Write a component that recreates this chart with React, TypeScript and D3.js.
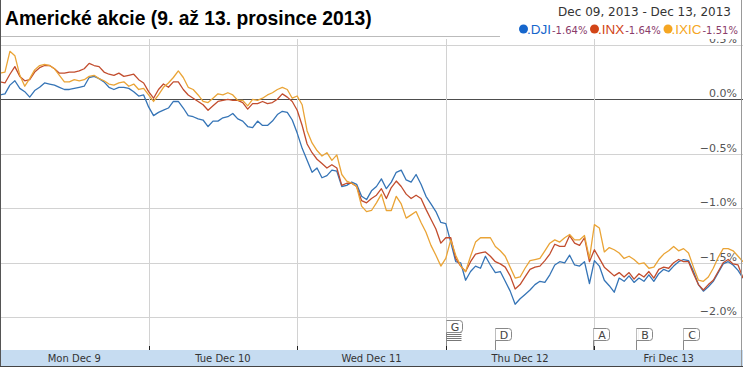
import React from "react";
import * as d3 from "d3";

const width = 743;
const height = 367;

const days = ["Mon Dec 9", "Tue Dec 10", "Wed Dec 11", "Thu Dec 12", "Fri Dec 13"];
const slotsPerDay = 30;
const yTicks = [0.5, 0, -0.5, -1.0, -1.5, -2.0];

// % change from the Friday Dec 6 close, one value per ~13 minutes of trading
const djiValues = [
  0.04, 0.05, 0.13, 0.17, 0.10, 0.07, 0.02, 0.08, 0.11, 0.15, 0.14, 0.13, 0.11, 0.09, 0.09, 0.10, 0.11, 0.12, 0.20, 0.21, 0.19, 0.16, 0.11, 0.09, 0.11, 0.11, 0.10, 0.07, 0.03, 0.04,
  -0.07, -0.15, -0.12, -0.10, -0.08, -0.02, -0.02, -0.08, -0.15, -0.16, -0.18, -0.19, -0.25, -0.20, -0.20, -0.17, -0.16, -0.13, -0.18, -0.20, -0.25, -0.26, -0.20, -0.24, -0.24, -0.20, -0.14, -0.11, -0.12, -0.19,
  -0.31, -0.45, -0.56, -0.67, -0.63, -0.72, -0.70, -0.65, -0.66, -0.80, -0.79, -0.76, -0.78, -0.89, -0.92, -0.84, -0.80, -0.73, -0.82, -0.76, -0.67, -0.65, -0.74, -0.76, -0.69, -0.78, -0.89, -0.96, -1.03, -1.13,
  -1.14, -1.31, -1.49, -1.50, -1.66, -1.58, -1.53, -1.55, -1.44, -1.52, -1.59, -1.58, -1.67, -1.76, -1.88, -1.83, -1.79, -1.75, -1.70, -1.67, -1.68, -1.61, -1.52, -1.49, -1.50, -1.43, -1.52, -1.53, -1.49, -1.69,
  -1.48, -1.53, -1.66, -1.71, -1.77, -1.64, -1.67, -1.62, -1.68, -1.64, -1.67, -1.61, -1.67, -1.60, -1.56, -1.58, -1.53, -1.49, -1.47, -1.48, -1.58, -1.70, -1.76, -1.72, -1.67, -1.59, -1.51, -1.49, -1.52, -1.57, -1.64,
];

const inxValues = [
  0.16, 0.15, 0.23, 0.30, 0.21, 0.17, 0.18, 0.25, 0.29, 0.31, 0.31, 0.28, 0.24, 0.24, 0.25, 0.25, 0.26, 0.28, 0.33, 0.31, 0.30, 0.25, 0.23, 0.22, 0.24, 0.21, 0.22, 0.23, 0.18, 0.15,
  0.07, 0.01, 0.09, 0.14, 0.11, 0.16, 0.16, 0.09, 0.04, 0.01, -0.02, -0.05, -0.10, -0.06, -0.02, -0.01, 0.00, -0.01, -0.01, -0.03, -0.09, -0.04, -0.04, -0.02, -0.04, -0.03, 0.00, 0.05, 0.02, -0.02,
  -0.10, -0.24, -0.41, -0.49, -0.55, -0.59, -0.63, -0.60, -0.63, -0.79, -0.77, -0.77, -0.80, -0.93, -0.95, -0.91, -0.88, -0.82, -0.91, -0.81, -0.75, -0.80, -0.87, -0.91, -0.88, -0.91, -1.01, -1.10, -1.19, -1.32,
  -1.27, -1.27, -1.46, -1.53, -1.58, -1.49, -1.42, -1.41, -1.40, -1.44, -1.49, -1.51, -1.54, -1.62, -1.74, -1.70, -1.63, -1.56, -1.54, -1.53, -1.48, -1.42, -1.33, -1.35, -1.35, -1.25, -1.32, -1.34, -1.27, -1.49,
  -1.38, -1.46, -1.54, -1.58, -1.62, -1.59, -1.63, -1.59, -1.65, -1.60, -1.63, -1.58, -1.64, -1.56, -1.54, -1.55, -1.50, -1.47, -1.49, -1.49, -1.60, -1.70, -1.75, -1.70, -1.66, -1.58, -1.50, -1.47, -1.51, -1.52, -1.64,
];

const ixicValues = [
  0.24, 0.25, 0.44, 0.40, 0.22, 0.12, 0.19, 0.27, 0.31, 0.32, 0.31, 0.28, 0.22, 0.16, 0.16, 0.18, 0.17, 0.18, 0.21, 0.22, 0.19, 0.17, 0.14, 0.13, 0.15, 0.16, 0.12, 0.14, 0.09, 0.10,
  0.04, -0.02, 0.04, 0.11, 0.15, 0.20, 0.26, 0.20, 0.11, 0.09, 0.04, -0.02, -0.03, 0.01, 0.05, 0.04, 0.06, 0.04, -0.01, -0.01, -0.06, 0.00, -0.01, 0.01, 0.04, 0.06, 0.09, 0.11, 0.09, 0.01,
  0.03, -0.05, -0.29, -0.40, -0.47, -0.52, -0.49, -0.56, -0.51, -0.69, -0.75, -0.77, -0.80, -0.98, -1.03, -1.02, -0.95, -0.87, -1.02, -1.02, -0.89, -0.96, -1.09, -1.06, -1.03, -1.13, -1.22, -1.34, -1.43, -1.53,
  -1.46, -1.29, -1.43, -1.53, -1.58, -1.44, -1.31, -1.27, -1.27, -1.27, -1.35, -1.39, -1.44, -1.54, -1.64, -1.63, -1.55, -1.48, -1.47, -1.46, -1.39, -1.32, -1.29, -1.31, -1.27, -1.24, -1.29, -1.29, -1.25, -1.46,
  -1.15, -1.18, -1.40, -1.36, -1.38, -1.41, -1.46, -1.44, -1.47, -1.51, -1.50, -1.55, -1.54, -1.47, -1.42, -1.39, -1.35, -1.39, -1.37, -1.41, -1.54, -1.66, -1.67, -1.63, -1.55, -1.45, -1.37, -1.37, -1.39, -1.44, -1.49,
];

const seriesNames = [".DJI", ".INX", ".IXIC"];
const seriesChanges = ["-1.64%", "-1.64%", "-1.51%"];
const seriesColors = ["#3574b6", "#c24d2e", "#eaa436"];
const legendColors = ["#1666cc", "#d24517", "#f5a623"];
const seriesValues = [djiValues, inxValues, ixicValues];

// news flags: label, slot on the time axis, how many flags are stacked
const flagLabels = ["G", "D", "A", "B", "C"];
const flagSlots = [90, 100, 119.8, 128.3, 137.8];
const flagStacks = [6, 1, 1, 2, 1];

const fmtTick = (v: number) => d3.format(".1f")(v) + "%";

export default function App() {
  const x = d3.scaleLinear().domain([0, days.length * slotsPerDay]).range([0, width]);
  const y = d3.scaleLinear().domain([0.5, -2]).range([44.8, 317.3]);
  const line = d3
    .line<number>()
    .x((_, i) => x(i))
    .y((d) => y(d));

  const px = (v: number) => Math.round(v) + 0.5;
  const axisTop = 350;

  const legendX = [519, 590, 663.5];

  return (
    <svg
      width={width}
      height={height}
      style={{ position: "absolute", left: 0, top: 0, background: "#fff" }}
      fontFamily="DejaVu Sans, Verdana, sans-serif"
    >
      {/* grid */}
      {yTicks.map((t) => (
        <line
          key={t}
          x1={0}
          x2={width}
          y1={px(y(t))}
          y2={px(y(t))}
          stroke={t === 0 ? "#4d4d4d" : "#d2d2d2"}
          strokeWidth={1}
        />
      ))}
      {days.slice(1).map((d, i) => (
        <line
          key={d}
          x1={px(x((i + 1) * slotsPerDay))}
          x2={px(x((i + 1) * slotsPerDay))}
          y1={36}
          y2={axisTop}
          stroke="#d2d2d2"
        />
      ))}

      {/* y labels */}
      {yTicks.map((t) => (
        <text key={t} x={737} y={y(t) - 2} textAnchor="end" fontSize={11} fill="#555">
          {fmtTick(t)}
        </text>
      ))}

      {/* series */}
      {seriesValues.map((vals, i) => (
        <path
          key={seriesNames[i]}
          d={line(vals) || ""}
          fill="none"
          stroke={seriesColors[i]}
          strokeWidth={1.3}
          strokeLinejoin="round"
        />
      ))}

      {/* flags */}
      {flagLabels.map((lab, i) => {
        const fx = px(x(flagSlots[i]));
        const top = flagStacks[i] > 2 ? 320.5 : 328.5;
        const bottom = flagStacks[i] > 2 ? 341.5 : 340.5;
        return (
          <g key={lab}>
            <line x1={fx} x2={fx} y1={top} y2={axisTop} stroke="#888" />
            {flagStacks[i] > 2 &&
              d3.range(flagStacks[i] - 1).map((k) => (
                <line
                  key={k}
                  x1={fx}
                  x2={fx + 15}
                  y1={top + 12 + k * 2}
                  y2={top + 12 + k * 2}
                  stroke="#777"
                />
              ))}
            {flagStacks[i] === 2 && (
              <line x1={fx + 2} x2={fx + 2} y1={top} y2={top + 12} stroke="#888" />
            )}
            <path
              d={`M${fx},${top} H${fx + 13} Q${fx + 16},${top} ${fx + 16},${top + 3} V${top + 9} Q${fx + 16},${top + 12} ${fx + 13},${top + 12} H${fx}`}
              fill="#fff"
              fillOpacity={0.9}
              stroke="#888"
            />
            <text x={fx + 8.5} y={top + 10} textAnchor="middle" fontSize={11} fill="#444">
              {lab}
            </text>
          </g>
        );
      })}

      {/* x axis band */}
      <rect x={0} y={axisTop} width={width} height={height - axisTop} fill="#c6dcf1" />
      {days.map((d, i) => (
        <g key={d}>
          <line
            x1={px(x(i * slotsPerDay))}
            x2={px(x(i * slotsPerDay))}
            y1={346}
            y2={axisTop}
            stroke="#222"
          />
          <text
            x={x(i * slotsPerDay + slotsPerDay / 2)}
            y={362}
            textAnchor="middle"
            fontSize={10}
            fill="#333"
          >
            {d}
          </text>
        </g>
      ))}

      {/* header */}
      <rect x={0} y={0} width={width} height={39} fill="#fff" />
      <line x1={0} x2={500} y1={36.5} y2={36.5} stroke="#bbb" />
      <text
        x={5}
        y={25}
        fontFamily="Liberation Sans, Arial, sans-serif"
        fontWeight="bold"
        fontSize={19.3}
        fill="#000"
      >
        Americké akcie (9. až 13. prosince 2013)
      </text>
      <text x={731} y={16} textAnchor="end" fontSize={12} fill="#333">
        Dec 09, 2013 - Dec 13, 2013
      </text>
      {seriesNames.map((n, i) => (
        <g key={n} transform={`translate(${legendX[i]},0)`}>
          <circle cx={4.5} cy={29} r={4.5} fill={legendColors[i]} />
          <text x={8} y={33.5} fontFamily="Liberation Sans, Arial, sans-serif" fontSize={13.5} fill={legendColors[i]}>
            {n}
            <tspan fontFamily="DejaVu Sans, Verdana, sans-serif" fontSize={10} fill="#8a3b6a" dx={1}>
              {seriesChanges[i]}
            </tspan>
          </text>
        </g>
      ))}

      {/* frame */}
      <line x1={0.5} x2={0.5} y1={0} y2={height} stroke="#555" />
      <line x1={741.5} x2={741.5} y1={0} y2={height} stroke="#999" />
      <line x1={0} x2={width} y1={366.5} y2={366.5} stroke="#444" />
    </svg>
  );
}
